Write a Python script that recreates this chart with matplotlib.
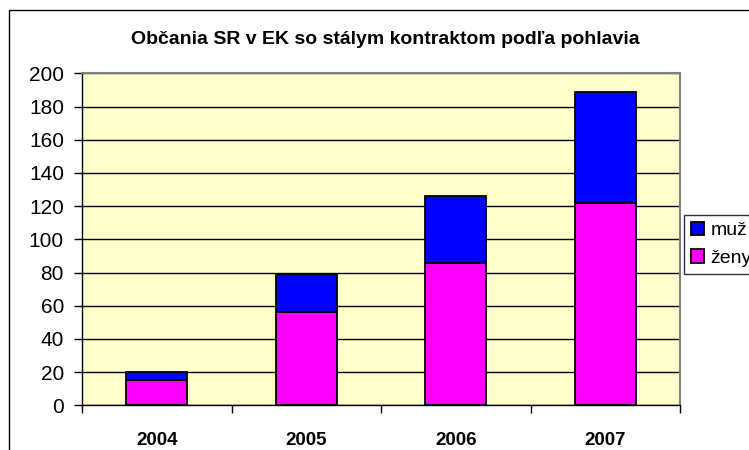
import matplotlib
matplotlib.use("Agg")
import matplotlib.pyplot as plt
from matplotlib.patches import Rectangle
import numpy as np

years = ["2004", "2005", "2006", "2007"]
zeny = [15, 56, 86, 122]
muz = [5, 23, 40, 67]
yticks = [0, 20, 40, 60, 80, 100, 120, 140, 160, 180, 200]
title = "Občania SR v EK so stálym kontraktom podľa pohlavia"

plt.rcParams['font.family'] = ['Liberation Sans', 'DejaVu Sans']

W, H = 749, 450
fig = plt.figure(figsize=(W / 100, H / 100), dpi=100)
fig.patch.set_facecolor('white')

# outer chart border (cropped at right and bottom)
fig.patches.append(Rectangle((9 / W, -0.05), 1.2, 1 - 10 / H + 0.05,
                             transform=fig.transFigure, fill=False,
                             edgecolor='black', linewidth=1.0))

ax = fig.add_axes([82 / W, 1 - 405.3 / H, (680 - 82) / W, (405.3 - 73.3) / H])
ax.set_facecolor('#FFFFCC')

x = np.arange(len(years))
w = 0.41
ax.bar(x, zeny, width=w, color='#FF00FF', edgecolor='black', linewidth=1.3,
       label='ženy', zorder=3)
ax.bar(x, muz, width=w, bottom=zeny, color='#0000FF', edgecolor='black',
       linewidth=1.3, label='muž', zorder=3)

ax.set_xlim(-0.5, len(years) - 0.5)
ax.set_ylim(0, 200)
ax.set_yticks(yticks)
ax.set_yticklabels([str(v) for v in yticks], fontsize=15)
ax.tick_params(axis='y', length=6, width=1, pad=7, direction='out', color='black')

ax.set_xticks(np.arange(len(years) + 1) - 0.5)
ax.set_xticklabels([])
ax.tick_params(axis='x', which='major', length=6, width=1, direction='out', color='black')
ax.set_xticks(x, minor=True)
ax.set_xticklabels(years, minor=True, fontsize=13.5, fontweight='bold')
ax.tick_params(axis='x', which='minor', length=0, pad=19)

ax.grid(axis='y', color='black', linewidth=1.0, zorder=1)
ax.set_axisbelow(True)
for s in ['top', 'right']:
    ax.spines[s].set_color('#808080')
    ax.spines[s].set_linewidth(1.5)
for s in ['left', 'bottom']:
    ax.spines[s].set_color('black')
    ax.spines[s].set_linewidth(1.0)

fig.text(385 / W, 1 - 40 / H, title, ha='center', va='center',
         fontsize=14, fontweight='bold')

handles, labels = ax.get_legend_handles_labels()
leg = fig.legend(handles[::-1], labels[::-1], loc='upper left',
                 bbox_to_anchor=(684 / W, 1 - 215 / H), fontsize=14,
                 frameon=True, fancybox=False, edgecolor='black',
                 handlelength=0.7, handleheight=0.7, handletextpad=0.3,
                 borderpad=0.35, labelspacing=0.5, borderaxespad=0)
leg.get_frame().set_linewidth(1.0)

fig.savefig('out.png', dpi=100, facecolor='white')
